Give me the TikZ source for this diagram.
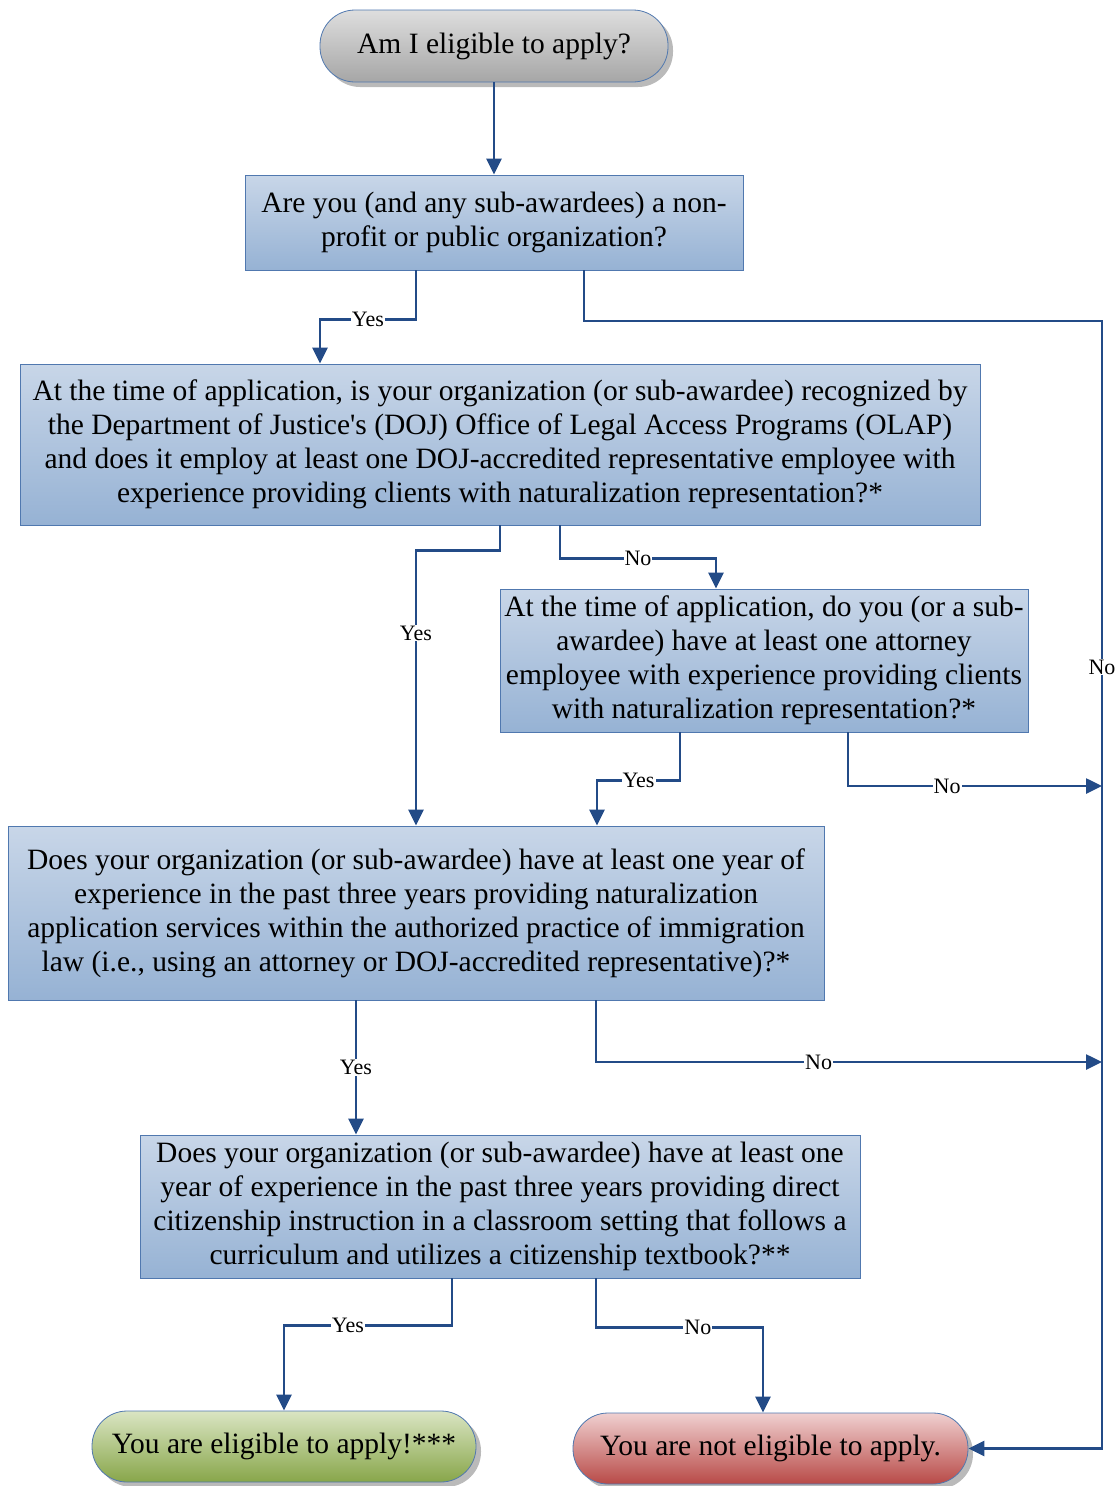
\documentclass[tikz,border=0pt]{standalone}
\usepackage{fontspec}
\setmainfont{Liberation Serif}
\usetikzlibrary{arrows.meta,shadows}
\definecolor{lineblue}{RGB}{35,75,135}
\definecolor{boxborder}{RGB}{80,120,175}
\definecolor{boxtop}{RGB}{200,214,232}
\definecolor{boxbot}{RGB}{150,178,212}
\definecolor{graytop}{RGB}{222,222,222}
\definecolor{graybot}{RGB}{166,166,166}
\definecolor{greentop}{RGB}{218,229,195}
\definecolor{greenbot}{RGB}{136,166,74}
\definecolor{redtop}{RGB}{240,208,208}
\definecolor{redbot}{RGB}{184,74,71}
\tikzset{
  qbox/.style={draw=boxborder, line width=0.8pt, top color=boxtop, bottom color=boxbot,
    align=center, inner sep=0pt, font=\fontsize{29.5}{34}\selectfont},
  pill/.style={draw=boxborder, line width=0.8pt, rounded corners=35pt,
    align=center, inner sep=0pt, font=\fontsize{29.5}{34}\selectfont,
    drop shadow={shadow xshift=5pt, shadow yshift=-5pt, opacity=0.45, fill=black!60}},
  conn/.style={draw=lineblue, line width=2.6pt, -{Triangle[length=16pt,width=15pt]}},
  lbl/.style={fill=white, inner sep=1pt, font=\fontsize{22}{24}\selectfont}
}
\begin{document}
\begin{tikzpicture}[x=1pt,y=-1pt]
\useasboundingbox (0,0) rectangle (1117,1486);
\node[pill, top color=graytop, bottom color=graybot, minimum width=348pt, minimum height=72pt] (start) at (494,46) {Am I eligible to apply?};
\node[qbox, minimum width=498pt, minimum height=95pt] (b1) at (494,222.5) {Are you (and any sub-awardees) a non-\\profit or public organization?};
\node[qbox, minimum width=960pt, minimum height=161pt] (b2) at (500,444.5) {At the time of application, is your organization (or sub-awardee) recognized by\\the Department of Justice\textquotesingle s (DOJ) Office of Legal Access Programs (OLAP)\\and does it employ at least one DOJ-accredited representative employee with\\experience providing clients with naturalization representation?*};
\node[qbox, minimum width=528pt, minimum height=143pt] (b3) at (764,660.5) {At the time of application, do you (or a sub-\\awardee) have at least one attorney\\employee with experience providing clients\\with naturalization representation?*};
\node[qbox, minimum width=816pt, minimum height=174pt] (b4) at (416,913) {Does your organization (or sub-awardee) have at least one year of\\experience in the past three years providing naturalization\\application services within the authorized practice of immigration\\law (i.e., using an attorney or DOJ-accredited representative)?*};
\node[qbox, minimum width=720pt, minimum height=143pt] (b5) at (500,1206.5) {Does your organization (or sub-awardee) have at least one\\year of experience in the past three years providing direct\\citizenship instruction in a classroom setting that follows a\\curriculum and utilizes a citizenship textbook?**};
\node[pill, top color=greentop, bottom color=greenbot, minimum width=384pt, minimum height=71pt] (yes) at (284,1446.5) {You are eligible to apply!***};
\node[pill, top color=redtop, bottom color=redbot, minimum width=395pt, minimum height=71pt] (no) at (770.5,1448.5) {You are not eligible to apply.};
\coordinate (j0) at (1102,321);
\coordinate (j1) at (1102,786);
\coordinate (j2) at (1102,1062);
% connectors
\draw[conn] (start) -- (b1);
\draw[conn] ([xshift=-78pt]b1.south) -- ++(0,49) -| node[lbl,pos=0.25]{Yes} ([xshift=-180pt]b2.north);
\draw[conn] ([xshift=90pt]b1.south) |- (j0) -- node[lbl,pos=0.307]{No} (j0 |- no.east) -- (no.east);
\draw[conn] (b2.south) -- ++(0,25) -| node[lbl,pos=0.65]{Yes} (b4.north);
\draw[conn] ([xshift=60pt]b2.south) -- ++(0,33) -| node[lbl,pos=0.25]{No} ([xshift=-48pt]b3.north);
\draw[conn] ([xshift=-84pt]b3.south) -- ++(0,48) -| node[lbl,pos=0.25]{Yes} ([xshift=181pt]b4.north);
\draw[conn] ([xshift=84pt]b3.south) |- node[lbl,pos=0.695]{No} (j1);
\draw[conn] ([xshift=-60pt]b4.south) -- node[lbl]{Yes} ([xshift=-144pt]b5.north);
\draw[conn] ([xshift=180pt]b4.south) |- node[lbl,pos=0.72]{No} (j2);
\draw[conn] ([xshift=-48pt]b5.south) -- ++(0,47) -| node[lbl,pos=0.31]{Yes} (yes.north);
\draw[conn] ([xshift=96pt]b5.south) -- ++(0,49) -| node[lbl,pos=0.305]{No} ([xshift=-7.5pt]no.north);
\end{tikzpicture}
\end{document}
